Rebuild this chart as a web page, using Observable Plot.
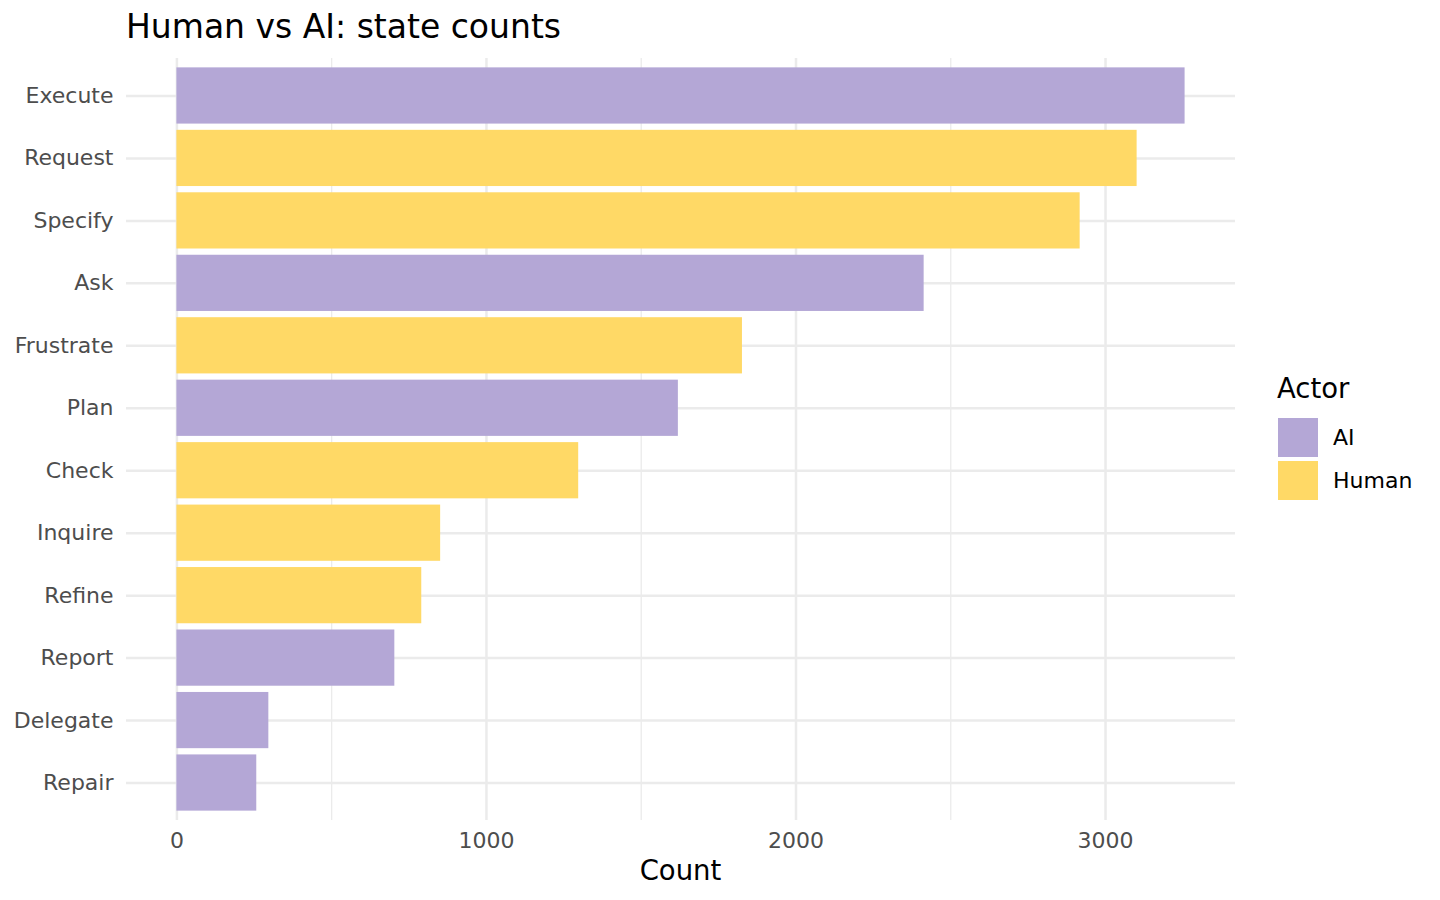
<!DOCTYPE html>
<html>
<head>
<meta charset="utf-8">
<script src="https://cdn.jsdelivr.net/npm/d3@7"></script>
<script src="https://cdn.jsdelivr.net/npm/@observablehq/plot@0.6"></script>
<style>
  html, body { margin: 0; padding: 0; background: #ffffff; }
  #wrap { position: relative; width: 1440px; height: 900px; font-family: "DejaVu Sans", sans-serif; }
  #chart { position: absolute; left: 0; top: 0; }
  .abs { position: absolute; white-space: nowrap; }
  #title { left: 126px; top: 10px; font-size: 33px; line-height: 33px; color: #000; }
  #xlabel { left: 126px; width: 1109px; top: 857px; font-size: 27.5px; line-height: 27.5px; text-align: center; color: #000; }
  #legtitle { left: 1277px; top: 375px; font-size: 27.5px; line-height: 27.5px; color: #000; }
  .key { position: absolute; left: 1278px; width: 40px; height: 39px; }
  .klab { position: absolute; left: 1333px; font-size: 22px; line-height: 22px; color: #000; }
</style>
</head>
<body>
<div id="wrap">
  <div id="chart"></div>
  <div id="title" class="abs">Human vs AI: state counts</div>
  <div id="xlabel" class="abs">Count</div>
  <div id="legtitle" class="abs">Actor</div>
  <div id="legend"></div>
</div>
<script>
const states = ["Execute","Request","Specify","Ask","Frustrate","Plan","Check","Inquire","Refine","Report","Delegate","Repair"];
const counts = [3257,3102,2918,2414,1827,1620,1298,852,791,704,297,258];
const actors = ["AI","Human","Human","AI","Human","AI","Human","Human","Human","AI","AI","AI"];
const actorDomain = ["AI","Human"];
const actorColors = ["#B4A7D6","#FFD966"];
const xTicks = [0,1000,2000,3000];
const xMinorTicks = [500,1500,2500];

const data = states.map((s, i) => ({state: s, count: counts[i], actor: actors[i]}));
const maxCount = d3.max(counts);

const chart = Plot.plot({
  width: 1440,
  height: 900,
  marginLeft: 126,
  marginRight: 205,
  marginTop: 58,
  marginBottom: 80,
  style: {fontFamily: "DejaVu Sans", fontSize: "22px", background: "#ffffff", overflow: "visible"},
  x: {domain: [-0.05 * maxCount, 1.05 * maxCount]},
  y: {type: "band", domain: states, paddingInner: 0.1, paddingOuter: 0.15, round: false},
  color: {domain: actorDomain, range: actorColors},
  marks: [
    Plot.gridX({ticks: xMinorTicks, stroke: "#EBEBEB", strokeOpacity: 1, strokeWidth: 1.3}),
    Plot.gridX({ticks: xTicks, stroke: "#EBEBEB", strokeOpacity: 1, strokeWidth: 2.5}),
    Plot.gridY({stroke: "#EBEBEB", strokeOpacity: 1, strokeWidth: 2.5}),
    Plot.barX(data, {x: "count", y: "state", fill: "actor"}),
    Plot.axisX({ticks: xTicks, tickFormat: d3.format("d"), tickSize: 0, tickPadding: 12, fontSize: 22, color: "#4D4D4D", label: null}),
    Plot.axisY({tickSize: 0, tickPadding: 13, fontSize: 22, color: "#4D4D4D", label: null})
  ]
});
document.getElementById("chart").appendChild(chart);

const legend = document.getElementById("legend");
actorDomain.forEach((a, i) => {
  const key = document.createElement("div");
  key.className = "key";
  key.style.top = (418 + i * 43) + "px";
  key.style.background = actorColors[i];
  legend.appendChild(key);
  const lab = document.createElement("div");
  lab.className = "klab";
  lab.style.top = (427.4 + i * 43) + "px";
  lab.textContent = a;
  legend.appendChild(lab);
});
</script>
</body>
</html>
